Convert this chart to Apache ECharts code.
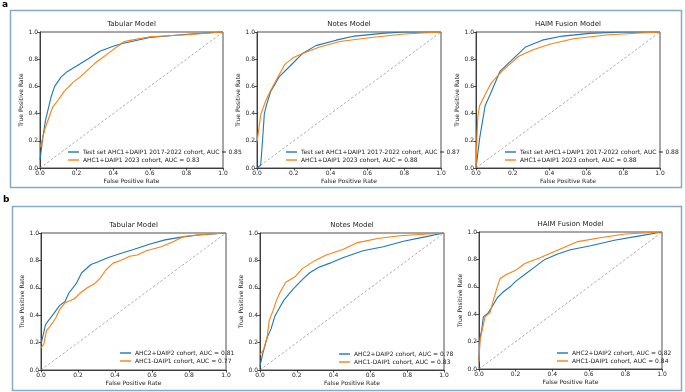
<!DOCTYPE html>
<html><head><meta charset="utf-8">
<script src="https://cdn.jsdelivr.net/npm/echarts@6/dist/echarts.min.js"></script>
<style>html,body{margin:0;padding:0;background:#fff}#c{width:685px;height:392px}</style>
</head><body><div id="c"></div>
<script>
// ---- data ----
const tickValues = [0, 0.2, 0.4, 0.6, 0.8, 1.0];
const titles = ["Tabular Model", "Notes Model", "HAIM Fusion Model", "Tabular Model", "Notes Model", "HAIM Fusion Model"];
const diagonal = [[0, 0], [1, 1]];

const aNamesBlue = ["Test set AHC1+DAIP1 2017-2022 cohort, AUC = 0.85", "Test set AHC1+DAIP1 2017-2022 cohort, AUC = 0.87", "Test set AHC1+DAIP1 2017-2022 cohort, AUC = 0.88"];
const aNamesOrange = ["AHC1+DAIP1 2023 cohort, AUC = 0.83", "AHC1+DAIP1 2023 cohort, AUC = 0.88", "AHC1+DAIP1 2023 cohort, AUC = 0.88"];
const bNamesBlue = ["AHC2+DAIP2 cohort, AUC = 0.81", "AHC2+DAIP2 cohort, AUC = 0.78", "AHC2+DAIP2 cohort, AUC = 0.82"];
const bNamesOrange = ["AHC1-DAIP1 cohort, AUC = 0.77", "AHC1-DAIP1 cohort, AUC = 0.83", "AHC1-DAIP1 cohort, AUC = 0.84"];

const aTabBlue = [[0,0.06],[0.015,0.22],[0.03,0.35],[0.06,0.52],[0.08,0.6],[0.116,0.67],[0.15,0.71],[0.2,0.75],[0.26,0.8],[0.33,0.86],[0.4,0.895],[0.45,0.915],[0.5,0.93],[0.6,0.96],[0.82,0.985],[1,1]];
const aTabOrange = [[0,0.15],[0.01,0.2],[0.03,0.3],[0.07,0.45],[0.1,0.5],[0.13,0.56],[0.18,0.63],[0.22,0.67],[0.3,0.77],[0.38,0.85],[0.46,0.93],[0.5,0.94],[0.6,0.965],[0.8,0.98],[1,1]];
const aNotesBlue = [[0,0],[0.02,0.02],[0.03,0.2],[0.04,0.4],[0.055,0.48],[0.074,0.56],[0.12,0.67],[0.18,0.75],[0.245,0.84],[0.32,0.9],[0.43,0.94],[0.53,0.97],[0.68,0.99],[0.8,1.0],[1,1]];
const aNotesOrange = [[0,0.19],[0.02,0.39],[0.046,0.49],[0.074,0.57],[0.11,0.66],[0.15,0.76],[0.195,0.81],[0.245,0.84],[0.34,0.89],[0.45,0.93],[0.62,0.96],[0.8,0.985],[1,1]];
const aHaimBlue = [[0,0],[0.02,0.22],[0.05,0.46],[0.08,0.55],[0.13,0.71],[0.2,0.8],[0.27,0.89],[0.36,0.94],[0.47,0.97],[0.62,0.99],[0.8,1.0],[1,1]];
const aHaimOrange = [[0,0],[0.005,0.22],[0.01,0.38],[0.02,0.46],[0.08,0.62],[0.14,0.71],[0.23,0.82],[0.31,0.87],[0.4,0.91],[0.53,0.95],[0.72,0.98],[1,1]];

const bTabBlue = [[0,0.19],[0.01,0.245],[0.024,0.33],[0.04,0.36],[0.068,0.41],[0.1,0.47],[0.13,0.5],[0.15,0.56],[0.19,0.63],[0.22,0.71],[0.27,0.77],[0.31,0.79],[0.36,0.82],[0.43,0.85],[0.5,0.88],[0.59,0.92],[0.67,0.95],[0.76,0.97],[0.85,0.985],[1,1]];
const bTabOrange = [[0,0.16],[0.015,0.19],[0.03,0.29],[0.05,0.32],[0.08,0.38],[0.1,0.44],[0.13,0.49],[0.18,0.52],[0.21,0.56],[0.25,0.6],[0.29,0.63],[0.32,0.67],[0.35,0.73],[0.39,0.78],[0.43,0.8],[0.48,0.83],[0.52,0.84],[0.57,0.87],[0.65,0.9],[0.72,0.94],[0.77,0.975],[0.88,0.99],[1,1]];
const bNotesBlue = [[0,0.03],[0.015,0.12],[0.04,0.24],[0.06,0.3],[0.08,0.39],[0.1,0.44],[0.13,0.51],[0.18,0.59],[0.23,0.66],[0.27,0.71],[0.32,0.75],[0.38,0.78],[0.45,0.82],[0.56,0.87],[0.67,0.9],[0.78,0.94],[0.89,0.97],[1,1]];
const bNotesOrange = [[0,0.11],[0.02,0.15],[0.04,0.25],[0.05,0.36],[0.07,0.43],[0.09,0.51],[0.11,0.57],[0.14,0.64],[0.19,0.68],[0.23,0.74],[0.3,0.8],[0.36,0.84],[0.45,0.88],[0.53,0.93],[0.64,0.96],[0.76,0.98],[1,1]];
const bHaimBlue = [[0,0.07],[0.005,0.22],[0.015,0.29],[0.024,0.38],[0.05,0.41],[0.07,0.45],[0.1,0.52],[0.13,0.56],[0.17,0.6],[0.2,0.64],[0.25,0.69],[0.3,0.74],[0.36,0.8],[0.43,0.84],[0.5,0.87],[0.61,0.9],[0.74,0.94],[0.87,0.97],[1,1]];
const bHaimOrange = [[0,0.05],[0.005,0.2],[0.015,0.27],[0.033,0.38],[0.06,0.41],[0.08,0.51],[0.1,0.6],[0.115,0.66],[0.15,0.69],[0.2,0.72],[0.25,0.77],[0.33,0.81],[0.4,0.85],[0.47,0.89],[0.54,0.93],[0.67,0.96],[0.8,0.985],[1,1]];

const blueData = [aTabBlue, aNotesBlue, aHaimBlue, bTabBlue, bNotesBlue, bHaimBlue];
const orangeData = [aTabOrange, aNotesOrange, aHaimOrange, bTabOrange, bNotesOrange, bHaimOrange];
const blueNames = aNamesBlue.concat(bNamesBlue);
const orangeNames = aNamesOrange.concat(bNamesOrange);

// ---- layout ----
const grids = [
  {left:40, top:32, width:183, height:136},
  {left:257, top:32, width:184, height:136},
  {left:476, top:32, width:184, height:136},
  {left:41, top:233, width:185, height:137},
  {left:260, top:233, width:184, height:137},
  {left:479, top:232, width:183, height:137}
];
const legendPos = [
  {left:68, top:149}, {left:286, top:149}, {left:505, top:149},
  {left:120, top:350}, {left:339, top:351}, {left:557, top:350}
];
const FONT = "DejaVu Sans";
const BLUE = "#1f77b4", ORANGE = "#ff7f0e";

const option = {
  animation:false,
  backgroundColor:"#fff",
  textStyle:{fontFamily:FONT},
  title:[], grid:[], xAxis:[], yAxis:[], legend:[], series:[],
  graphic:[
    {type:"rect", shape:{x:10.5,y:10.5,width:671,height:177}, style:{fill:"none", stroke:"#86a9c6", lineWidth:1.5}},
    {type:"rect", shape:{x:12.5,y:206.5,width:669,height:184}, style:{fill:"none", stroke:"#86a9c6", lineWidth:1.5}},
    {type:"text", left:2, top:0, style:{text:"a", font:"bold 9px " + FONT, fill:"#000"}},
    {type:"text", left:3, top:195, style:{text:"b", font:"bold 9px " + FONT, fill:"#000"}}
  ]
};

grids.forEach((g, i) => {
  option.grid.push(Object.assign({show:true, borderColor:"#222", borderWidth:0.8, backgroundColor:"transparent", containLabel:false}, g));
  option.title.push({text:titles[i], left:g.left + g.width/2, top:g.top - 11, textAlign:"center",
    textStyle:{fontSize:7, fontWeight:"normal", color:"#222", fontFamily:FONT}, padding:0});
  const axisCommon = {type:"value", min:0, max:1, interval:0.2, gridIndex:i,
    axisLine:{show:true, lineStyle:{color:"#222", width:0.8}},
    axisTick:{show:true, inside:false, length:2.5, lineStyle:{color:"#222", width:0.8}},
    axisLabel:{fontSize:6, color:"#222", margin:2, fontFamily:FONT, formatter:v => v.toFixed(1)},
    splitLine:{show:false},
    nameLocation:"middle",
    nameTextStyle:{fontSize:6, color:"#222", fontFamily:FONT}};
  option.xAxis.push(Object.assign({}, axisCommon, {name:"False Positive Rate", nameGap:10}));
  option.yAxis.push(Object.assign({}, axisCommon, {name:"True Positive Rate", nameGap:15}));
  option.series.push({type:"line", xAxisIndex:i, yAxisIndex:i, data:diagonal, symbol:"none", silent:true,
    lineStyle:{color:"#888", width:0.7, type:[2.5,2]}});
  option.series.push({type:"line", name:blueNames[i], xAxisIndex:i, yAxisIndex:i, data:blueData[i], symbol:"none",
    lineStyle:{color:BLUE, width:1.1}, itemStyle:{color:BLUE}});
  option.series.push({type:"line", name:orangeNames[i], xAxisIndex:i, yAxisIndex:i, data:orangeData[i], symbol:"none",
    lineStyle:{color:ORANGE, width:1.1}, itemStyle:{color:ORANGE}});
  option.legend.push(Object.assign({data:[blueNames[i], orangeNames[i]], orient:"vertical", padding:0, itemGap:2,
    icon:"rect", itemWidth:11, itemHeight:1.4, selectedMode:false,
    textStyle:{fontSize:6, color:"#222", fontFamily:FONT, lineHeight:6, padding:[0,0,0,-1]}}, legendPos[i]));
});

const chart = echarts.init(document.getElementById("c"), null, {renderer:"canvas"});
chart.setOption(option);
</script></body></html>
